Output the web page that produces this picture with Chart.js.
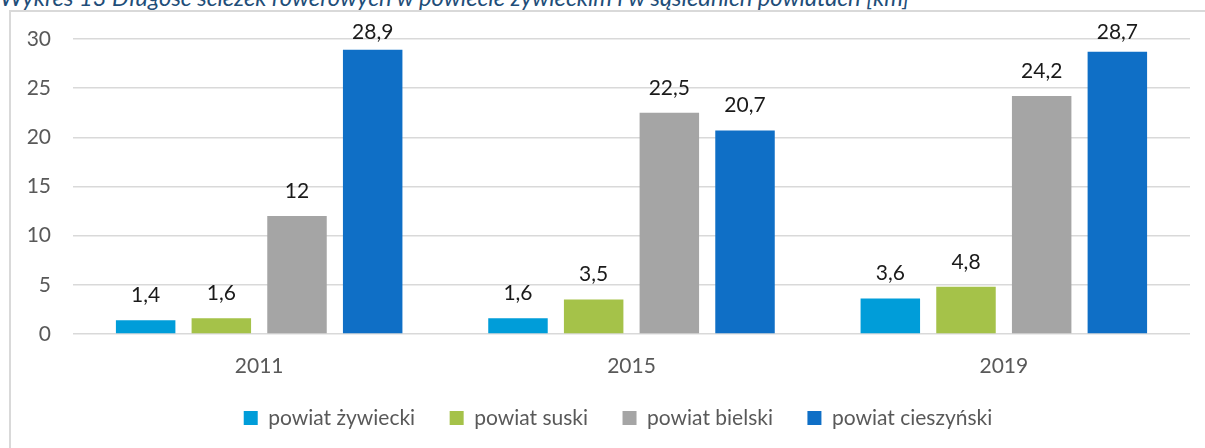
<!DOCTYPE html>
<html>
<head>
<meta charset="utf-8">
<script src="https://cdn.jsdelivr.net/npm/chart.js@4"></script>
<style>
  body { margin: 0; background: #fff; overflow: hidden; width: 1205px; height: 448px; position: relative; }
  #title { position: absolute; left: 0; top: -13px; font: italic 23.7px Lato, sans-serif; line-height: 21px; color: #1F4E79; white-space: nowrap; }
  #box { position: absolute; left: 9px; top: 10px; width: 1210px; height: 480px; border: 2px solid #D9D9D9; }
  #chart { position: absolute; left: 0; top: 0; }
</style>
</head>
<body>
<div id="title">Wykres 13 Długość ścieżek rowerowych w powiecie żywieckim i w sąsiednich powiatach [km]</div>
<div id="box"><canvas id="chart" width="1194" height="470"></canvas></div>
<script>
const years = ['2011', '2015', '2019'];
const zywiecki = [1.4, 1.6, 3.6];
const suski = [1.6, 3.5, 4.8];
const bielski = [12, 22.5, 24.2];
const cieszynski = [28.9, 20.7, 28.7];
const yTicks = [0, 5, 10, 15, 20, 25, 30];

const font = 'Lato, sans-serif';

// labels above bars, decimal comma
const valueLabels = {
  id: 'valueLabels',
  afterDatasetsDraw(chart) {
    const c = chart.ctx;
    c.save();
    c.font = '21px ' + font;
    c.fillStyle = '#1a1a1a';
    c.textAlign = 'center';
    c.textBaseline = 'middle';
    chart.data.datasets.forEach((ds, i) => {
      chart.getDatasetMeta(i).data.forEach((bar, j) => {
        const y = Math.max(bar.y - 25, chart.chartArea.top - 7);
        c.fillText(String(ds.data[j]).replace('.', ','), bar.x, y);
      });
    });
    c.restore();
  }
};

// axis boxes are tight, so let their labels spill out without being clipped
const widenAxes = {
  id: 'widenAxes',
  afterLayout(chart) {
    chart.scales.y.left = 0;
    chart.scales.x.bottom = chart.height;
  }
};

new Chart(document.getElementById('chart'), {
  type: 'bar',
  data: {
    labels: years,
    datasets: [
      { label: 'powiat żywiecki', data: zywiecki, backgroundColor: '#009DD9' },
      { label: 'powiat suski', data: suski, backgroundColor: '#A5C249' },
      { label: 'powiat bielski', data: bielski, backgroundColor: '#A5A5A5' },
      { label: 'powiat cieszyński', data: cieszynski, backgroundColor: '#0F6FC6' }
    ]
  },
  options: {
    responsive: false,
    animation: false,
    categoryPercentage: 0.813,
    barPercentage: 0.786,
    layout: { padding: { left: 35, right: 15, top: 27, bottom: 43.5 } },
    plugins: {
      legend: {
        position: 'bottom',
        labels: {
          boxWidth: 14,
          boxHeight: 14,
          padding: 34.5,
          color: '#595959',
          font: { family: font, size: 21 }
        }
      },
      tooltip: { enabled: false }
    },
    scales: {
      x: {
        grid: { display: false },
        border: { display: false },
        ticks: { color: '#595959', padding: 12, font: { family: font, size: 21 } },
        afterFit(scale) { scale.height = 39; }
      },
      y: {
        min: 0,
        max: 30,
        afterBuildTicks(scale) { scale.ticks = yTicks.map(v => ({ value: v })); },
        grid: { color: '#D9D9D9', lineWidth: 1.5, drawTicks: false },
        border: { display: false },
        ticks: { color: '#595959', padding: 22, font: { family: font, size: 21 } },
        afterFit(scale) { scale.width = 27; scale.paddingTop = 0; }
      }
    }
  },
  plugins: [valueLabels, widenAxes]
});
</script>
</body>
</html>
